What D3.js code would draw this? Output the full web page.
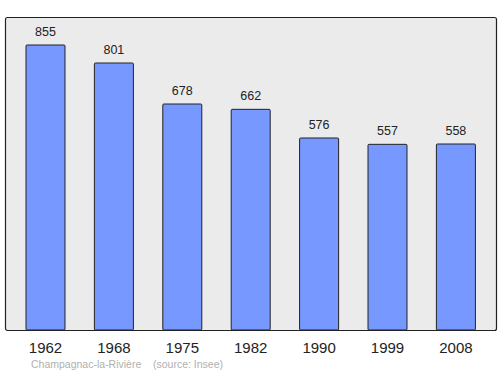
<script src="https://d3js.org/d3.v7.min.js"></script>
<style>
  body { margin: 0; background: #fff; }
  text { font-family: "Liberation Sans", Arial, sans-serif; }
</style>
<svg id="vis"></svg>
<script>
  var years = ['1962', '1968', '1975', '1982', '1990', '1999', '2008'];
  var population = [855, 801, 678, 662, 576, 557, 558];

  var width = 500;
  var height = 374;

  var svg = d3.select('#vis')
      .attr('width', width)
      .attr('height', height);

  // plot frame
  svg.append('rect')
      .attr('x', 5.5)
      .attr('y', 17.5)
      .attr('width', 491)
      .attr('height', 313)
      .attr('rx', 2)
      .attr('fill', '#ebebeb')
      .attr('stroke', '#222')
      .attr('stroke-width', 1.2);

  var x = d3.scaleBand()
      .domain(years)
      .range([11.3, 490.1])
      .paddingInner(0.43)
      .paddingOuter(0.215);

  var y = d3.scaleLinear()
      .domain([0, 939])
      .range([330, 17]);

  var data = years.map(function(d, i) { return {year: d, value: population[i]}; });

  // bars
  svg.selectAll('rect.bar')
      .data(data)
      .enter().append('rect')
      .attr('class', 'bar')
      .attr('x', function(d) { return x(d.year); })
      .attr('y', function(d) { return y(d.value); })
      .attr('width', x.bandwidth())
      .attr('height', function(d) { return y(0) - y(d.value); })
      .attr('rx', 1)
      .attr('fill', '#7799ff')
      .attr('stroke', '#222')
      .attr('stroke-width', 1);

  // value labels
  svg.selectAll('text.val')
      .data(data)
      .enter().append('text')
      .attr('class', 'val')
      .attr('x', function(d) { return x(d.year) + x.bandwidth() / 2; })
      .attr('y', function(d) { return y(d.value) - 9; })
      .attr('text-anchor', 'middle')
      .attr('font-size', 12.5)
      .attr('fill', '#222')
      .text(function(d) { return d.value; });

  // year axis labels
  svg.selectAll('text.year')
      .data(years)
      .enter().append('text')
      .attr('class', 'year')
      .attr('x', function(d) { return x(d) + x.bandwidth() / 2; })
      .attr('y', 353)
      .attr('text-anchor', 'middle')
      .attr('font-size', 15)
      .attr('fill', '#222')
      .text(function(d) { return d; });

  svg.append('text')
      .attr('x', 31)
      .attr('y', 368)
      .attr('font-size', 10.5)
      .attr('fill', '#b0b0b0')
      .text('Champagnac-la-Rivière');

  svg.append('text')
      .attr('x', 153)
      .attr('y', 368)
      .attr('font-size', 10.5)
      .attr('fill', '#b0b0b0')
      .text('(source: Insee)');
</script>
